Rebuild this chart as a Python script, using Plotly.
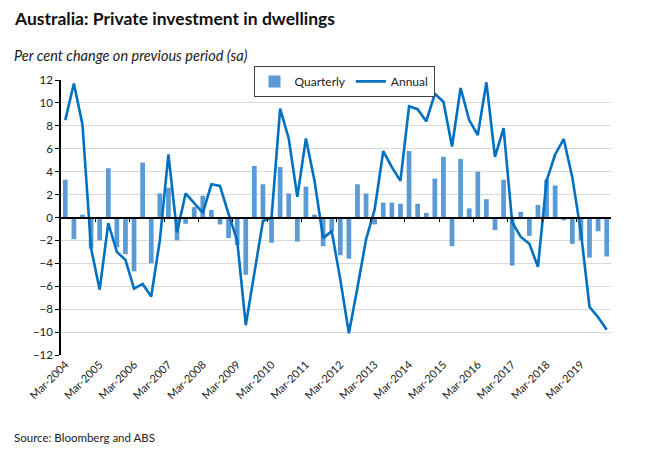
import plotly.graph_objects as go

# Quarters Mar-2004 .. Dec-2019
years = list(range(2004, 2020))
months = ["Mar", "Jun", "Sep", "Dec"]
quarters = [f"{m}-{y}" for y in years for m in months]

# Per cent change on previous quarter (sa)
quarterly = [
    3.3, -1.9, 0.25, -2.7, -2.0, 4.3, -2.6, -3.2,
    -4.7, 4.8, -4.0, 2.1, 2.6, -2.0, -0.55, 0.9,
    1.9, 0.66, -0.6, -1.8, -2.4, -5.0, 4.5, 2.9,
    -2.2, 4.4, 2.1, -2.1, 2.7, 0.26, -2.5, -1.2,
    -3.3, -3.6, 2.9, 2.1, -0.6, 1.3, 1.3, 1.2,
    5.8, 1.2, 0.4, 3.4, 5.3, -2.5, 5.1, 0.8,
    4.0, 1.6, -1.1, 3.3, -4.2, 0.5, -1.6, 1.1,
    3.3, 2.8, -0.25, -2.3, -2.0, -3.5, -1.2, -3.4,
]

# Per cent change on same quarter a year earlier
annual = [
    8.5, 11.7, 8.1, -2.7, -6.3, -0.5, -3.0, -3.7,
    -6.2, -5.8, -6.9, -2.0, 5.5, -1.3, 2.1, 1.2,
    0.4, 2.9, 2.75, 0.3, -2.0, -9.4, -4.8, -0.3,
    0.0, 9.5, 6.9, 1.8, 6.9, 3.2, -1.8, -1.2,
    -5.4, -10.1, -6.1, -1.9, 0.7, 5.8, 4.4, 3.2,
    9.7, 9.45, 8.4, 10.8, 10.1, 6.2, 11.3, 8.5,
    7.2, 11.8, 5.3, 7.8, -0.4, -1.7, -2.3, -4.3,
    3.2, 5.5, 6.85, 3.5, -1.3, -7.8, -8.7, -9.8,
]

x_labels = quarters[::4]
y_ticks = list(range(-12, 13, 2))
boundary_ticks = [i * 4 - 0.5 for i in range(1, len(years))]

FONT = "Lato"

fig = go.Figure()

fig.add_trace(go.Bar(
    x=quarters,
    y=quarterly,
    name="Quarterly",
    marker=dict(color="#5B9BD5", line=dict(width=0)),
))

fig.add_trace(go.Scatter(
    x=quarters,
    y=annual,
    mode="lines",
    name="Annual",
    line=dict(color="#0070C0", width=2.6),
))

# the page body has an 8px margin, so the margins are trimmed by that much
fig.update_layout(
    width=650,
    height=455,
    margin=dict(l=53, r=47, t=72, b=108),
    paper_bgcolor="white",
    plot_bgcolor="white",
    bargap=0.45,
    font=dict(family=FONT, size=11, color="#222222"),
    showlegend=True,
    legend=dict(
        orientation="h",
        x=0.35, xanchor="left",
        y=0.995, yanchor="middle",
        bgcolor="white",
        bordercolor="#404040",
        borderwidth=1,
        font=dict(size=12),
        traceorder="normal",
    ),
    xaxis=dict(
        type="category",
        categoryorder="array",
        categoryarray=quarters,
        range=[-0.5, len(quarters) - 0.5],
        tickmode="array",
        tickvals=x_labels,
        ticktext=x_labels,
        tickangle=-45,
        ticks="",
        showgrid=False,
        showline=False,
        zeroline=False,
        tickfont=dict(size=11),
    ),
    xaxis2=dict(
        overlaying="x",
        anchor="free",
        position=0.5,
        range=[-0.5, len(quarters) - 0.5],
        tickmode="array",
        tickvals=boundary_ticks,
        showticklabels=False,
        ticks="outside",
        ticklen=4,
        tickcolor="black",
        showline=True,
        linecolor="black",
        linewidth=1.5,
        showgrid=False,
        zeroline=False,
    ),
    yaxis=dict(
        range=[-12, 12],
        tickmode="array",
        tickvals=y_ticks,
        showgrid=True,
        gridcolor="#D9D9D9",
        gridwidth=1,
        zeroline=False,
        showline=True,
        linecolor="black",
        linewidth=1.5,
        ticks="outside",
        ticklen=4,
        tickcolor="black",
        tickfont=dict(size=11.5),
    ),
    annotations=[
        dict(text="<b>Australia: Private investment in dwellings</b>",
             xref="paper", yref="paper", x=-0.09, y=1.222,
             xanchor="left", yanchor="middle", showarrow=False,
             font=dict(size=17.5, color="#111111")),
        dict(text="<i>Per cent change on previous period (sa)</i>",
             xref="paper", yref="paper", x=-0.09, y=1.09,
             xanchor="left", yanchor="middle", showarrow=False,
             font=dict(size=14.5, color="#222222")),
        dict(text="Source: Bloomberg and ABS",
             xref="paper", yref="paper", x=-0.09, y=-0.3,
             xanchor="left", yanchor="middle", showarrow=False,
             font=dict(size=11.5, color="#222222")),
    ],
)

# dummy trace so the zero-line axis is drawn
fig.add_trace(go.Scatter(x=[None], y=[None], xaxis="x2", showlegend=False,
                         hoverinfo="skip"))

fig.write_html("out.html")
